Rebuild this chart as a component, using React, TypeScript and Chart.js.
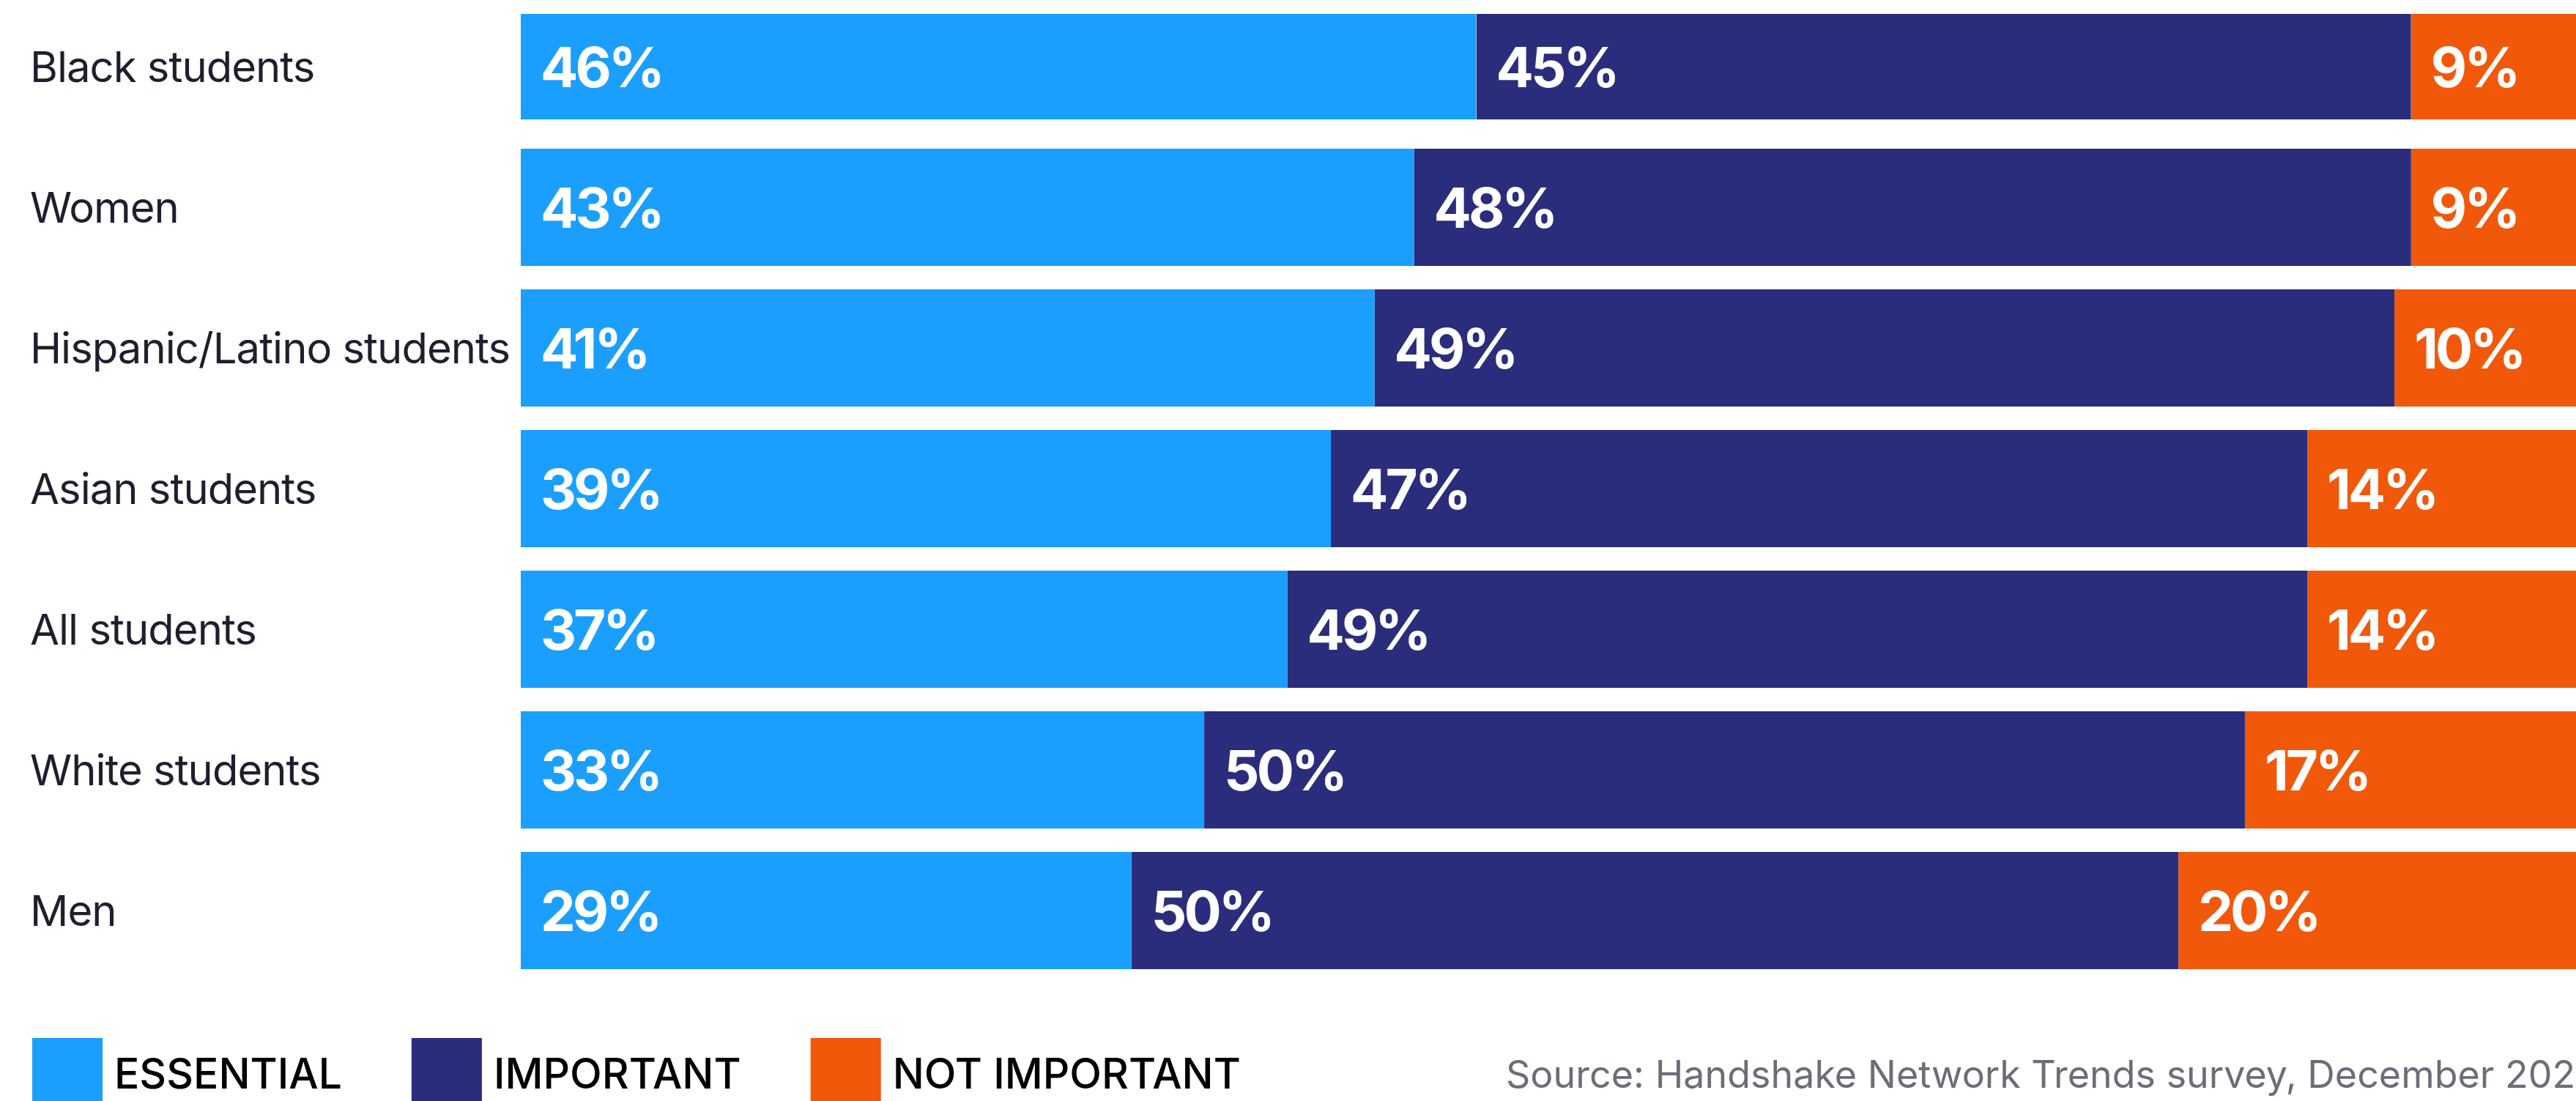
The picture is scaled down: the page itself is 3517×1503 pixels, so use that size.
import React, { useEffect, useRef } from "react";
import { Chart, registerables } from "chart.js";

Chart.register(...registerables);

// ---- data ----
const categories = [
  "Black students",
  "Women",
  "Hispanic/Latino students",
  "Asian students",
  "All students",
  "White students",
  "Men",
];
const essential = [46, 43, 41.1, 39, 36.9, 32.9, 29.4];
const important = [45, 48, 49.1, 47, 49.1, 50.1, 50.4];
const notImportant = [9, 9, 9.8, 14, 14, 17, 20.2];
const seriesNames = ["ESSENTIAL", "IMPORTANT", "NOT IMPORTANT"];
const sourceNote = "Source: Handshake Network Trends survey, December 2023";
// visible part of the 0–100 % axis (the picture is cropped at the right)
const X_MIN = 0;
const X_MAX = 98.94;

const COLORS = ["#1B9FFE", "#2A2D7C", "#F2580A"];
const FONT = "Inter, 'Noto Sans', sans-serif";
const W = 3517;
const H = 1503;
const SHIFT = 20; // canvas is drawn 20px above the page top (top row is cropped)

const textStylePlugin = {
  id: "textStyle",
  beforeDraw(chart: any) {
    chart.ctx.letterSpacing = "-1px";
  },
};

const valueLabelPlugin = {
  id: "valueLabels",
  afterDatasetsDraw(chart: any) {
    const { ctx } = chart;
    ctx.save();
    ctx.font = `700 76px ${FONT}`;
    ctx.letterSpacing = "-4px";
    ctx.fillStyle = "#ffffff";
    ctx.textAlign = "left";
    ctx.textBaseline = "alphabetic";
    chart.data.datasets.forEach((ds: any, di: number) => {
      const meta = chart.getDatasetMeta(di);
      meta.data.forEach((el: any, i: number) => {
        const { y, base } = el.getProps(["y", "base"], true);
        const v = ds.data[i] as number;
        ctx.fillText(`${Math.round(v)}%`, base + 27, y + 28);
      });
    });
    ctx.restore();
  },
};

const legendAndSourcePlugin = {
  id: "legendAndSource",
  afterDraw(chart: any) {
    const { ctx } = chart;
    ctx.save();
    ctx.letterSpacing = "0px";
    ctx.font = `500 57px ${FONT}`;
    ctx.textBaseline = "alphabetic";
    ctx.textAlign = "left";
    let x = 44;
    const boxTop = 1417 + SHIFT;
    const box = 96;
    const baseline = 1486 + SHIFT;
    chart.data.datasets.forEach((ds: any) => {
      ctx.fillStyle = ds.backgroundColor;
      ctx.fillRect(x, boxTop, box, box);
      const tx = x + 112;
      ctx.fillStyle = "#000000";
      ctx.fillText(ds.label, tx, baseline);
      x = tx + ctx.measureText(ds.label).width + 95;
    });
    ctx.font = `400 52px ${FONT}`;
    ctx.fillStyle = "#6B6E77";
    ctx.fillText(sourceNote, 2056, 1485 + SHIFT);
    ctx.restore();
  },
};

export default function App() {
  const ref = useRef<HTMLCanvasElement | null>(null);

  useEffect(() => {
    if (!ref.current) return;
    const inset = (c: any) =>
      c.dataIndex === 0 ? { top: 8, bottom: 8, left: 0, right: 0 } : 0;
    const mk = (label: string, data: number[], color: string) => ({
      label,
      data,
      backgroundColor: color,
      borderColor: "#ffffff",
      borderWidth: inset,
      borderSkipped: false as const,
      barPercentage: 160 / 192,
      categoryPercentage: 1,
    });
    const chart = new Chart(ref.current, {
      type: "bar",
      data: {
        labels: categories,
        datasets: [
          mk(seriesNames[0], essential, COLORS[0]),
          mk(seriesNames[1], important, COLORS[1]),
          mk(seriesNames[2], notImportant, COLORS[2]),
        ],
      },
      options: {
        indexAxis: "y",
        responsive: false,
        animation: false,
        devicePixelRatio: 1,
        layout: { padding: { top: 15, bottom: 164, left: 41, right: 0 } },
        plugins: {
          legend: { display: false },
          tooltip: { enabled: false },
          title: { display: false },
        },
        scales: {
          x: {
            stacked: true,
            display: false,
            min: X_MIN,
            max: X_MAX,
          },
          y: {
            stacked: true,
            grid: { display: false },
            border: { display: false },
            afterFit: (scale: any) => {
              scale.width = 670;
              scale.paddingTop = 0;
              scale.paddingBottom = 0;
            },
            ticks: {
              autoSkip: false,
              crossAlign: "far",
              labelOffset: 4,
              color: "#1E1F2E",
              font: { family: FONT, size: 58, weight: "400" as any },
            },
          },
        },
      },
      plugins: [textStylePlugin, valueLabelPlugin, legendAndSourcePlugin],
    });
    return () => chart.destroy();
  }, []);

  return (
    <div
      style={{
        position: "absolute",
        left: 0,
        top: 0,
        width: W,
        height: H,
        overflow: "hidden",
        background: "#ffffff",
      }}
    >
      <canvas
        ref={ref}
        width={W}
        height={H + SHIFT}
        style={{ display: "block", marginTop: -SHIFT }}
      />
    </div>
  );
}
